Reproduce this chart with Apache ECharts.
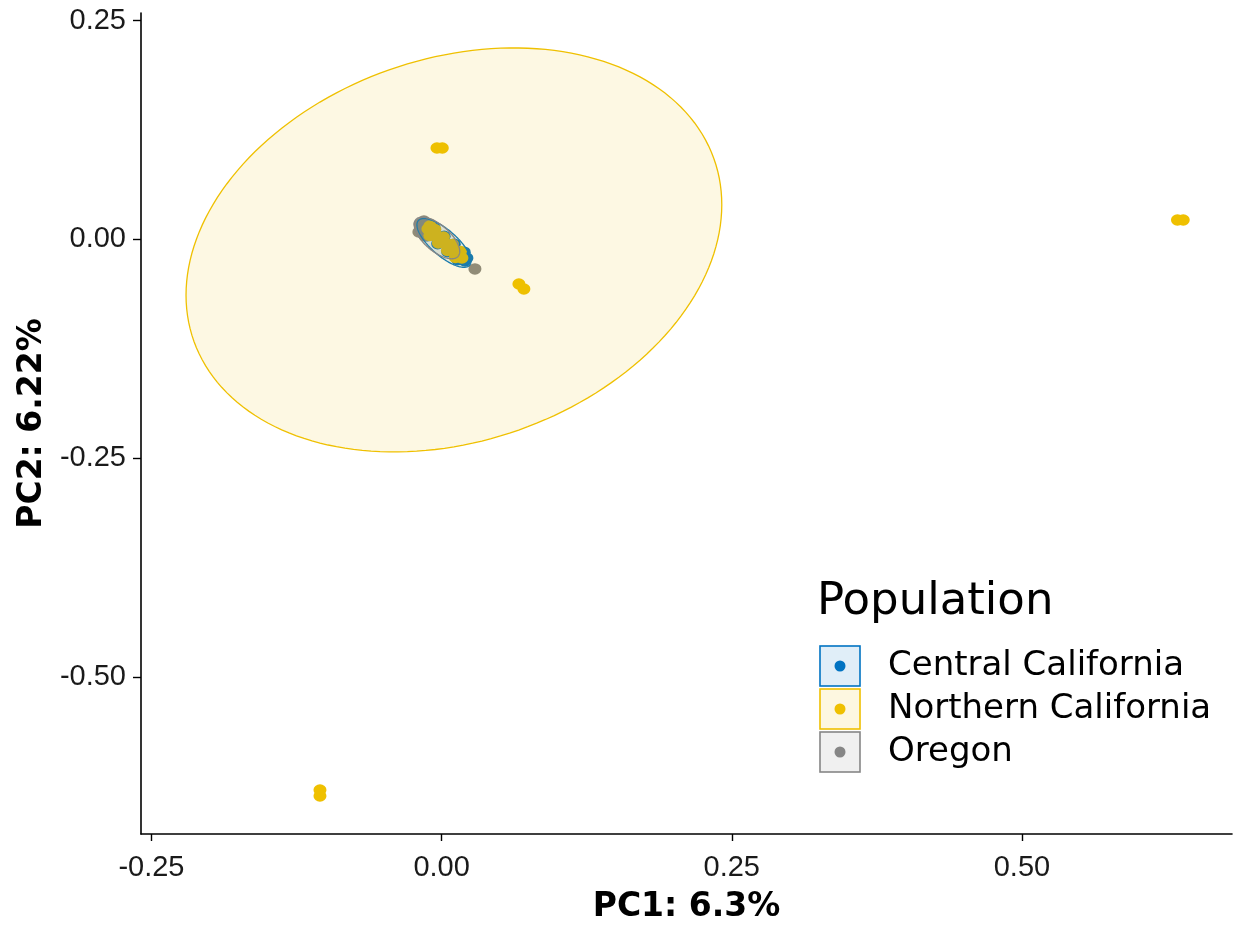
<!DOCTYPE html>
<html>
<head>
<meta charset="utf-8">
<title>PCA by population</title>
<script src="https://cdn.jsdelivr.net/npm/echarts@6/dist/echarts.min.js"></script>
<style>
  html, body { margin: 0; padding: 0; background: #ffffff; }
  #chart { width: 1238px; height: 926px; }
</style>
</head>
<body>
<div id="chart"></div>
<script>
// Population groups, in legend order
const populations = ['Central California', 'Northern California', 'Oregon'];
const groupColors = ['#0073C2', '#EFC000', '#868686'];

// PC1 / PC2 scores per population
const centralCalifornia = [
  [-0.0135, 0.0129], [-0.0092, 0.0083], [-0.0049, 0.0038], [-0.0006, -0.0008],
  [0.0037, -0.0054], [0.0080, -0.0099], [0.0123, -0.0145], [0.0166, -0.0191],
  [0.0201, -0.0248], [-0.0121, 0.0040], [-0.0034, -0.0051], [0.0052, -0.0143],
  [0.0138, -0.0234], [-0.0064, 0.0127], [0.0022, 0.0035], [0.0109, -0.0056],
  [0.0195, -0.0147], [0.0218, -0.0214]
];
const northernCalifornia = [
  [-0.0118, 0.0118], [-0.0101, 0.0152], [-0.0101, 0.0043], [-0.0058, 0.0112],
  [-0.0040, 0.0032], [-0.0028, -0.0042], [0.0016, 0.0026], [0.0033, -0.0048],
  [0.0050, -0.0128], [0.0093, -0.0059], [0.0106, -0.0134], [0.0119, -0.0208],
  [0.0162, -0.0139], [0.0175, -0.0214],
  [-0.0040, 0.1043], [0.0006, 0.1043],
  [0.6340, 0.0220], [0.6390, 0.0220],
  [0.0666, -0.0511], [0.0709, -0.0568],
  [-0.1048, -0.6295], [-0.1048, -0.6363]
];
const oregon = [
  [-0.0187, 0.0175], [-0.0152, 0.0209], [-0.0196, 0.0083], [-0.0144, 0.0038],
  [-0.0101, 0.0175], [0.0287, -0.0339]
];

// Confidence ellipses: [centerX, centerY, xCos, xSin, yCos, ySin]
const ellipseCentral = [0.0020, -0.0042, 0.0221, -0.0073, -0.0255, -0.0112];
const ellipseNorthern = [0.0106, -0.0122, 0.2308, 0.0, 0.0517, -0.2250];
const ellipseOregon = [-0.0040, 0.0015, 0.0182, -0.0073, -0.0210, -0.0112];

// Axis ticks
const xTicks = [-0.25, 0, 0.25, 0.5];
const yTicks = [-0.5, -0.25, 0, 0.25];
const xRange = [-0.259, 0.681];
const yRange = [-0.6797, 0.2586];

const AXIS_FONT = '"DejaVu Sans", sans-serif';
const TICK_FONT = '"Liberation Sans", Arial, sans-serif';

function withAlpha(hex, a) {
  const n = parseInt(hex.slice(1), 16);
  return 'rgba(' + ((n >> 16) & 255) + ',' + ((n >> 8) & 255) + ',' + (n & 255) + ',' + a + ')';
}

function legendIcon(color) {
  const svg = '<svg xmlns="http://www.w3.org/2000/svg" width="42" height="42">' +
    '<rect x="1" y="1" width="40" height="40" fill="' + withAlpha(color, 0.12) +
    '" stroke="' + color + '" stroke-width="1.6"/>' +
    '<circle cx="21" cy="21" r="5.5" fill="' + color + '"/></svg>';
  return 'image://data:image/svg+xml;charset=utf-8,' + encodeURIComponent(svg);
}

function scatterSeries(name, data, color, z) {
  return {
    type: 'scatter',
    name: name,
    data: data,
    symbol: 'circle',
    symbolSize: [13, 11.5],
    itemStyle: { color: color, opacity: 1 },
    z: z,
    silent: true
  };
}

function ellipseSeries(name, e, color) {
  return {
    type: 'custom',
    name: name,
    coordinateSystem: 'cartesian2d',
    data: [[e[0], e[1]]],
    encode: { x: 0, y: 1 },
    z: 6,
    silent: true,
    renderItem: function (params, api) {
      const pts = [];
      const steps = 180;
      for (let i = 0; i < steps; i++) {
        const t = 2 * Math.PI * i / steps;
        const x = e[0] + e[2] * Math.cos(t) + e[3] * Math.sin(t);
        const y = e[1] + e[4] * Math.cos(t) + e[5] * Math.sin(t);
        pts.push(api.coord([x, y]));
      }
      return {
        type: 'polygon',
        shape: { points: pts },
        style: { fill: withAlpha(color, 0.11), stroke: color, lineWidth: 1.3 }
      };
    }
  };
}

const chart = echarts.init(document.getElementById('chart'), null, { renderer: 'canvas' });

chart.setOption({
  backgroundColor: '#ffffff',
  animation: false,
  title: {
    text: 'Population',
    left: 817,
    top: 580,
    padding: 0,
    textStyle: { fontFamily: AXIS_FONT, fontSize: 45, fontWeight: 'normal', color: '#000000' }
  },
  legend: {
    orient: 'vertical',
    left: 819,
    top: 645,
    padding: 0,
    itemWidth: 42,
    itemHeight: 42,
    itemGap: 1,
    selectedMode: false,
    data: populations.map(function (p, i) { return { name: p, icon: legendIcon(groupColors[i]) }; }),
    textStyle: {
      fontFamily: AXIS_FONT,
      fontSize: 34,
      color: '#000000',
      padding: [0, 0, 0, 22]
    }
  },
  grid: { left: 141, right: 6, top: 13, bottom: 92, containLabel: false, outerBoundsMode: 'none' },
  xAxis: {
    type: 'value',
    min: xRange[0],
    max: xRange[1],
    name: 'PC1: 6.3%',
    nameLocation: 'middle',
    nameGap: 57,
    nameTextStyle: { fontFamily: AXIS_FONT, fontSize: 33, fontWeight: 'bold', color: '#000000' },
    splitLine: { show: false },
    axisLine: { show: true, onZero: false, lineStyle: { color: '#000000', width: 1.6 } },
    axisTick: { show: true, length: 7, customValues: xTicks, lineStyle: { color: '#000000', width: 1.4 } },
    axisLabel: {
      customValues: xTicks,
      margin: 19,
      fontFamily: TICK_FONT,
      fontSize: 29,
      color: '#1a1a1a',
      formatter: function (v) { return v.toFixed(2); }
    }
  },
  yAxis: {
    type: 'value',
    min: yRange[0],
    max: yRange[1],
    name: 'PC2: 6.22%',
    nameLocation: 'middle',
    nameGap: 91,
    nameRotate: 90,
    nameTextStyle: { fontFamily: AXIS_FONT, fontSize: 33, fontWeight: 'bold', color: '#000000' },
    splitLine: { show: false },
    axisLine: { show: true, onZero: false, lineStyle: { color: '#000000', width: 1.6 } },
    axisTick: { show: true, length: 8, customValues: yTicks, lineStyle: { color: '#000000', width: 1.4 } },
    axisLabel: {
      customValues: yTicks,
      margin: 15,
      fontFamily: TICK_FONT,
      fontSize: 29,
      color: '#1a1a1a',
      formatter: function (v) { return v.toFixed(2); }
    }
  },
  series: [
    scatterSeries(populations[0], centralCalifornia, groupColors[0], 2),
    scatterSeries(populations[1], northernCalifornia, groupColors[1], 4),
    scatterSeries(populations[2], oregon, groupColors[2], 3),
    ellipseSeries(populations[0], ellipseCentral, groupColors[0]),
    ellipseSeries(populations[1], ellipseNorthern, groupColors[1]),
    ellipseSeries(populations[2], ellipseOregon, groupColors[2])
  ]
});
</script>
</body>
</html>
